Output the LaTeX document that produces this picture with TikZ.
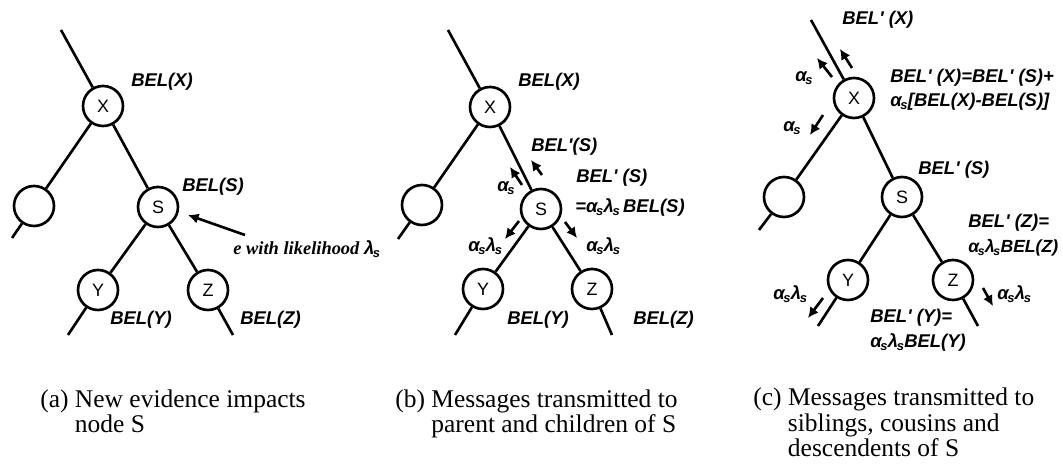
\documentclass[tikz,border=0pt]{standalone}
\usepackage{amsmath,amssymb}
\usepackage{fontspec}
\setmainfont{Liberation Serif}
\newfontfamily\belfont{Liberation Sans}
\usetikzlibrary{arrows,arrows.meta,calc}
\tikzset{>={Latex[length=6pt,width=6pt]}}
\newcommand{\alf}{α\kern-0.8pt\textsubscript{s}\kern-0.3pt}
\newcommand{\lam}{λ\kern-0.8pt\textsubscript{s}\kern-0.3pt}
\tikzset{
	vert/.style={circle, draw, line width=1.5pt, minimum size=0.8cm, inner sep=0pt, font=\belfont\fontsize{10.2}{12}\selectfont},
	edge/.style={line width=1.5pt},
	msg/.style={->, line width=1.5pt},
	bel/.style={anchor=base west, inner sep=0pt, font=\belfont\bfseries\itshape\fontsize{10.5}{12}\selectfont},
	evid/.style={anchor=base west, inner sep=0pt, font=\bfseries\itshape\fontsize{10.5}{12}\selectfont},
	capt/.style={anchor=base west, inner sep=0pt, align=left, font=\fontsize{14.5}{14.7}\selectfont},
}

\begin{document}
\begin{tikzpicture}[x=0.02cm, y=-0.02cm]
	\useasboundingbox (0,0) rectangle (1063,472);

	% (a) evidence at S
	\node[vert] (xa) at (103,106) {X};
	\node[vert] (la) at (34,206) {};
	\node[vert] (sa) at (158,207) {S};
	\node[vert] (ya) at (98,290) {Y};
	\node[vert] (za) at (208,290) {Z};
	\coordinate (xa0) at (61,30); % up to parent
	\coordinate (la0) at (12,238);
	\coordinate (ya0) at (68,335);
	\coordinate (za0) at (233,335);
	\coordinate (ev0) at (245,235); % evidence arrow
	\coordinate (ev1) at (188,215);

	\node[bel] (belxa) at (131,87) {BEL(X)};
	\node[bel] (belsa) at (182,192) {BEL(S)};
	\node[bel] (belya) at (110,325) {BEL(Y)};
	\node[bel] (belza) at (240,325) {BEL(Z)};
	\node[evid] (eva) at (233,255) {e with likelihood {\belfont\lam}};

	\draw[edge] (xa0) -- (xa);
	\draw[edge] (xa) -- (la);
	\draw[edge] (xa) -- (sa);
	\draw[edge] (la) -- (la0);
	\draw[edge] (sa) -- (ya);
	\draw[edge] (sa) -- (za);
	\draw[edge] (ya) -- (ya0);
	\draw[edge] (za) -- (za0);
	\draw[msg] (ev0) -- (ev1);

	% (b) messages to parent and children
	\node[vert] (xb) at (490,107) {X};
	\node[vert] (lb) at (422,205) {};
	\node[vert] (sb) at (541,209) {S};
	\node[vert] (yb) at (483,289) {Y};
	\node[vert] (zb) at (592,289) {Z};
	\coordinate (xb0) at (448,30);
	\coordinate (lb0) at (398,239);
	\coordinate (yb0) at (455,335);
	\coordinate (zb0) at (612,335);
	\coordinate (mb1) at (542,175); \coordinate (mb2) at (531,160); % BEL'(S) up
	\coordinate (mb3) at (522,185); \coordinate (mb4) at (510,167); % alpha up
	\coordinate (mb5) at (519,221); \coordinate (mb6) at (505,239); % to Y
	\coordinate (mb7) at (565,222); \coordinate (mb8) at (577,238); % to Z

	\node[bel] (belxb) at (518,87) {BEL(X)};
	\node[bel] (belsb) at (531,152) {BEL'(S)};
	\node[bel] (asb) at (497,192) {\alf};
	\node[bel] (newsb) at (576,183) {BEL' (S)};
	\node[bel] (eqsb) at (575,213) {=\alf\lam\,BEL(S)};
	\node[bel] (alyb) at (468,252) {\alf\lam};
	\node[bel] (alzb) at (586,252) {\alf\lam};
	\node[bel] (belyb) at (507,325) {BEL(Y)};
	\node[bel] (belzb) at (633,325) {BEL(Z)};

	\draw[edge] (xb0) -- (xb);
	\draw[edge] (xb) -- (lb);
	\draw[edge] (xb) -- (sb);
	\draw[edge] (lb) -- (lb0);
	\draw[edge] (sb) -- (yb);
	\draw[edge] (sb) -- (zb);
	\draw[edge] (yb) -- (yb0);
	\draw[edge] (zb) -- (zb0);
	\draw[msg] (mb1) -- (mb2);
	\draw[msg] (mb3) -- (mb4);
	\draw[msg] (mb5) -- (mb6);
	\draw[msg] (mb7) -- (mb8);

	% (c) messages to siblings, cousins, descendents
	\node[vert] (xc) at (854,98) {X};
	\node[vert] (lc) at (784,197) {};
	\node[vert] (sc) at (902,197) {S};
	\node[vert] (yc) at (848,280) {Y};
	\node[vert] (zc) at (953,280) {Z};
	\coordinate (xc0) at (811,20);
	\coordinate (lc0) at (759,230);
	\coordinate (yc0) at (818,326);
	\coordinate (zc0) at (978,326);
	\coordinate (mc1) at (852,68); \coordinate (mc2) at (840,49); % BEL'(X) up
	\coordinate (mc3) at (832,77); \coordinate (mc4) at (817,58); % alpha up
	\coordinate (mc5) at (823,115); \coordinate (mc6) at (810,135); % alpha to sibling
	\coordinate (mc7) at (823,298); \coordinate (mc8) at (808,318); % below Y
	\coordinate (mc9) at (983,288); \coordinate (mc10) at (993,306); % below Z

	\node[bel] (belxc) at (842,25) {BEL' (X)};
	\node[bel] (asc1) at (795,82) {\alf};
	\node[bel] (eqxc1) at (890,83) {BEL' (X)=BEL' (S)+};
	\node[bel] (eqxc2) at (890,107) {\alf[BEL(X)-BEL(S)]};
	\node[bel] (asc2) at (783,132) {\alf};
	\node[bel] (belsc) at (918,175) {BEL' (S)};
	\node[bel] (eqzc1) at (968,228) {BEL' (Z)=};
	\node[bel, font=\belfont\bfseries\itshape\fontsize{10}{12}\selectfont] (eqzc2) at (968,253) {\alf\lam BEL(Z)};
	\node[bel] (alyc) at (773,300) {\alf\lam};
	\node[bel] (alzc) at (997,300) {\alf\lam};
	\node[bel] (eqyc1) at (870,323) {BEL' (Y)=};
	\node[bel] (eqyc2) at (870,348) {\alf\lam BEL(Y)};

	\draw[edge] (xc0) -- (xc);
	\draw[edge] (xc) -- (lc);
	\draw[edge] (xc) -- (sc);
	\draw[edge] (lc) -- (lc0);
	\draw[edge] (sc) -- (yc);
	\draw[edge] (sc) -- (zc);
	\draw[edge] (yc) -- (yc0);
	\draw[edge] (zc) -- (zc0);
	\draw[msg] (mc1) -- (mc2);
	\draw[msg] (mc3) -- (mc4);
	\draw[msg] (mc5) -- (mc6);
	\draw[msg] (mc7) -- (mc8);
	\draw[msg] (mc9) -- (mc10);

	% Captions (base = last line)
	\node[capt] (capa) at (40,433) {(a) New evidence impacts\\\hphantom{(a) }node S};
	\node[capt] (capb) at (395,433) {(b) Messages transmitted to\\\hphantom{(b) }parent and children of S};
	\node[capt] (capc) at (753,457) {(c) Messages transmitted to\\\hphantom{(c) }siblings, cousins and\\\hphantom{(c) }descendents of S};
\end{tikzpicture}
\end{document}
